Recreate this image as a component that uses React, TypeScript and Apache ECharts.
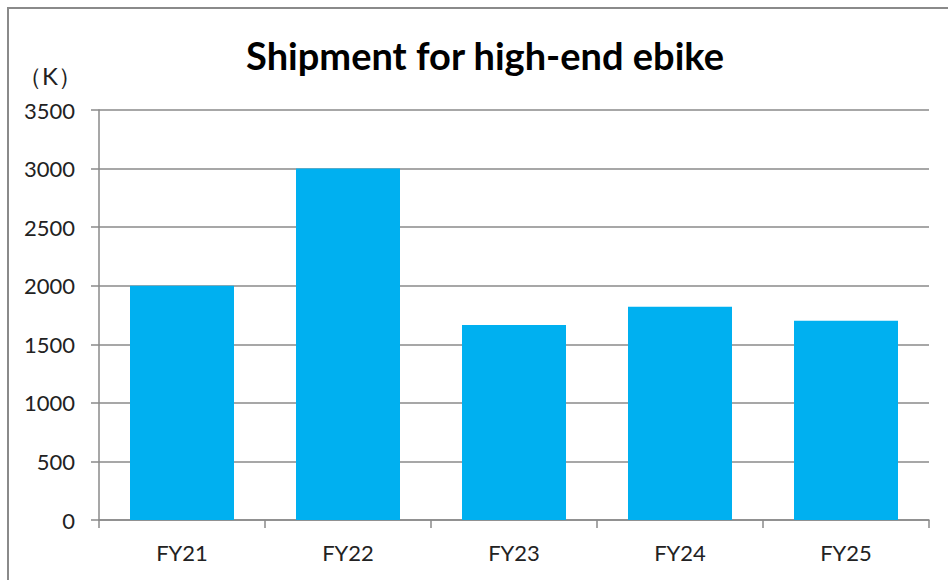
import React, { useEffect, useRef } from "react";
import * as echarts from "echarts";

const categories = ["FY21", "FY22", "FY23", "FY24", "FY25"];
const shipments = [2000, 3000, 1665, 1820, 1700];
const titleText = "Shipment for high-end ebike";
const unitText = "（K）";

export default function App() {
  const ref = useRef<HTMLDivElement>(null);
  useEffect(() => {
    if (!ref.current) return;
    const chart = echarts.init(ref.current, null, { renderer: "svg" });
    const font = "Lato, 'Open Sans', sans-serif";
    chart.setOption({
      animation: false,
      backgroundColor: "#ffffff",
      title: {
        text: titleText,
        left: 480,
        textAlign: "center",
        top: 31,
        textStyle: { fontFamily: font, fontWeight: "bold", fontSize: 38, color: "#000" },
      },
      graphic: [
        {
          type: "rect",
          shape: { x: 8, y: 8, width: 1000, height: 1000 },
          style: { fill: "none", stroke: "#8a8a8a", lineWidth: 2 },
          silent: true,
        },
        {
          type: "text",
          x: 18,
          y: 63,
          style: { text: unitText, fontFamily: font, fontSize: 24, fill: "#222" },
        },
      ],
      grid: { left: 99, top: 110, right: 19, bottom: 60 },
      xAxis: {
        type: "category",
        data: categories,
        axisLine: { show: true, lineStyle: { color: "#8a8a8a", width: 1.5 } },
        axisTick: { show: true, length: 8, alignWithLabel: false, lineStyle: { color: "#8a8a8a", width: 1.5 } },
        axisLabel: { margin: 21, fontFamily: font, fontSize: 22, color: "#222" },
        splitLine: { show: false },
      },
      yAxis: {
        type: "value",
        min: 0,
        max: 3500,
        interval: 500,
        axisLine: { show: true, lineStyle: { color: "#8a8a8a", width: 1.5 } },
        axisTick: { show: true, length: 8, lineStyle: { color: "#8a8a8a", width: 1.5 } },
        axisLabel: { margin: 24, fontFamily: font, fontSize: 22, color: "#222", formatter: (v: number) => String(v) },
        splitLine: { show: true, lineStyle: { color: "#8a8a8a", width: 1.5 } },
      },
      series: [
        {
          type: "bar",
          data: shipments,
          barWidth: 104,
          itemStyle: { color: "#00B0F0" },
        },
      ],
    });
    return () => chart.dispose();
  }, []);
  return (
    <div
      ref={ref}
      style={{ position: "fixed", left: 0, top: 0, width: 948, height: 580 }}
    />
  );
}
